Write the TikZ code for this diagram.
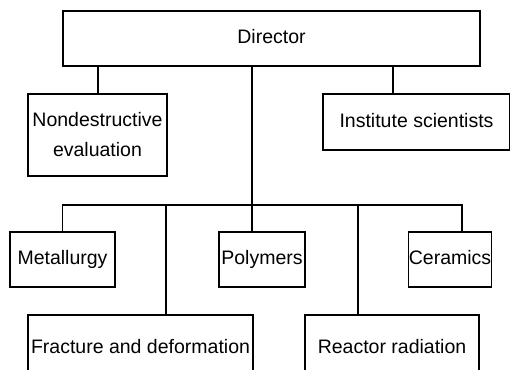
\documentclass[tikz,border=0pt]{standalone}
\usepackage{fontspec}
\setmainfont{Liberation Sans}

\begin{document}
\begin{tikzpicture}[
    x=1pt, y=-1pt,
    font=\fontsize{19.5}{30}\selectfont,
    unit/.style={draw, line width=1.2pt, rectangle, inner sep=0pt, align=center,
                 text height=14pt, text depth=4pt},
    link/.style={line width=1.3pt},
    trunk/.style={line width=1.8pt},
]

% Frame
\clip (0,0) rectangle (510,369);

% Top: Director
\node[unit, minimum width=417, minimum height=55] (dir) at (271.5, 38.5) {Director};

% Staff units under the director
\node[unit, minimum width=139, minimum height=82, text height=, text depth=] (nde) at (97.5, 135) {Nondestructive\\evaluation};
\node[unit, minimum width=187, minimum height=56] (inst) at (416.5, 122) {Institute scientists};

% Divisions, upper row
\node[unit, minimum width=105, minimum height=55] (met) at (62.5, 259.5) {Metallurgy};
\node[unit, minimum width=86, minimum height=55] (poly) at (262, 259.5) {Polymers};
\node[unit, minimum width=80, minimum height=55] (cer) at (450, 259.5) {Ceramics};

% Divisions, lower row (cut off at the bottom)
\node[unit, minimum width=225, minimum height=66] (frac) at (140.5, 348) {Fracture and deformation};
\node[unit, minimum width=174, minimum height=66] (reac) at (392, 348) {Reactor radiation};

% Connecting lines
\coordinate (split) at (252, 205);
\draw[trunk] (dir.south -| split) -- (split);
\draw[link] ([xshift=-173.5]dir.south) -- ([xshift=0.5]nde.north);
\draw[link] ([xshift=121.5]dir.south) -- ([xshift=-23.5]inst.north);
\draw[link] (met.north) |- (split);
\draw[link] (cer.north -| 462, 0) |- (split);
\draw[link] ([xshift=-10]poly.north) -- (split);
\draw[link] ([xshift=25.5]frac.north) -- ++(0,-110);
\draw[link] ([xshift=-34]reac.north) -- ++(0,-110);

\end{tikzpicture}
\end{document}
